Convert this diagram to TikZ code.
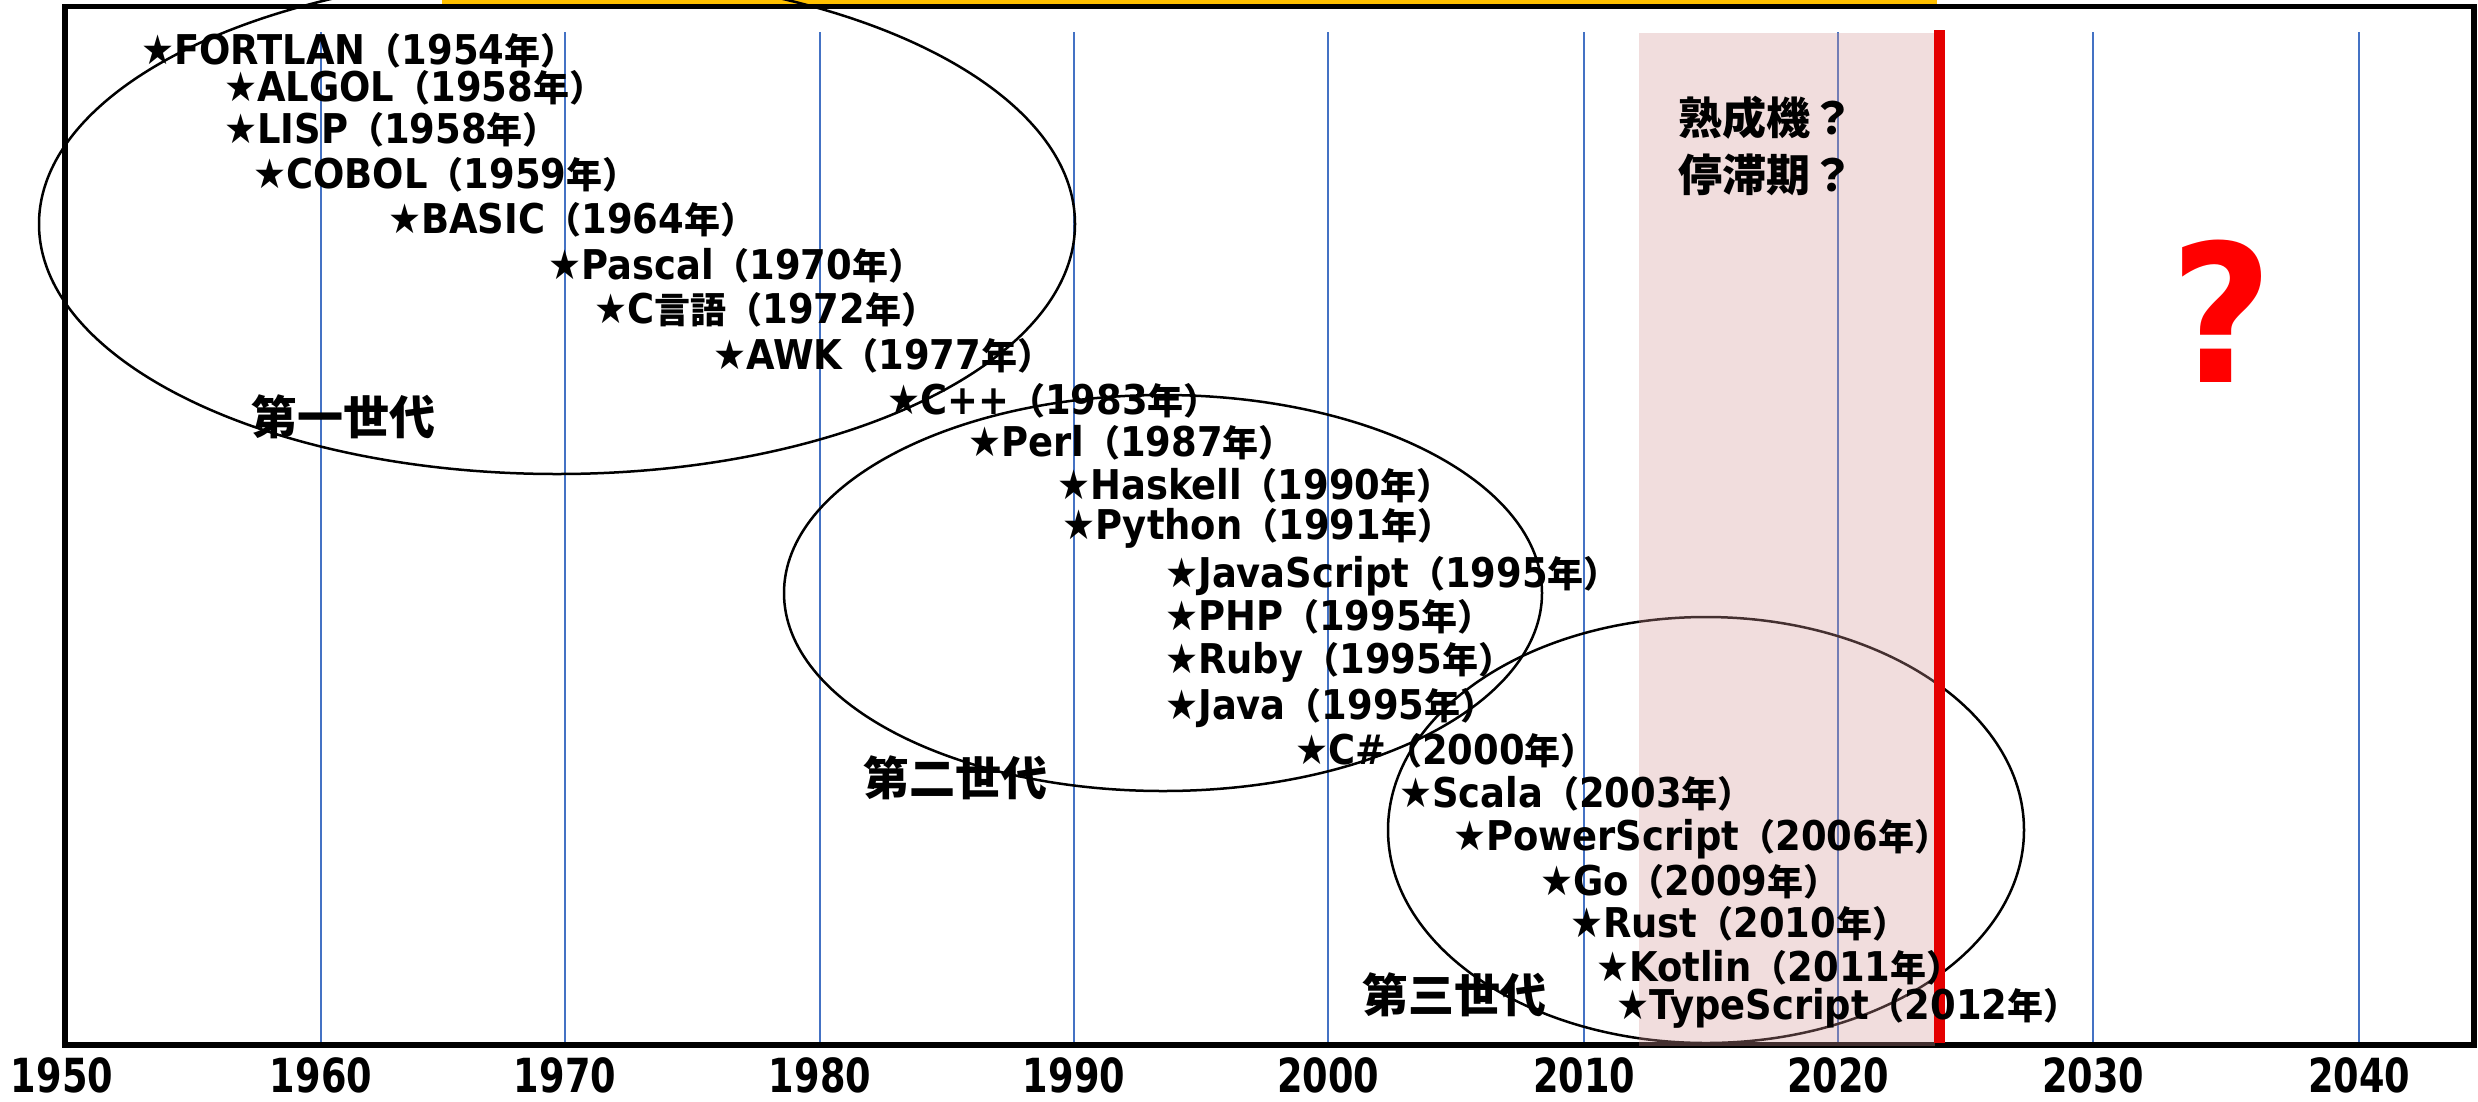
\documentclass[tikz,border=0pt]{standalone}
\usepackage{fontspec}
\newfontfamily\latf{DejaVu Sans}[FakeStretch=0.9]
\newfontfamily\axisfont{DejaVu Sans}[FakeStretch=0.78]
\newfontfamily\qfont{DejaVu Sans}[FakeStretch=0.92]
\newfontfamily\jpf{Noto Sans CJK JP}
\definecolor{gridblue}{RGB}{68,114,196}
\definecolor{orangebar}{RGB}{255,192,0}
\definecolor{pinkfill}{RGB}{214,150,150}
\definecolor{nowred}{RGB}{228,0,0}
\newcommand\jc[1]{{\jpf\fontsize{36}{36}\selectfont #1}}
\newcommand\entry[2]{★#1\jc{（}#2\jc{年）}}
\tikzset{
  lang/.style={anchor=west, inner sep=0pt, font=\latf\bfseries\fontsize{41}{41}\selectfont},
  gen/.style={anchor=west, inner sep=0pt, font=\jpf\bfseries\fontsize{46}{46}\selectfont},
  yearlbl/.style={inner sep=0pt, font=\axisfont\bfseries\fontsize{47}{47}\selectfont},
  gridline/.style={draw=gridblue, line width=1.5pt},
  era/.style={draw=black, line width=2.5pt},
}
\begin{document}
\begin{tikzpicture}[x=1pt,y=-1pt]
\useasboundingbox (0,0) rectangle (2478,1101);
\clip (0,0) rectangle (2478,1101);
\fill[white] (0,0) rectangle (2478,1101);
% strip above the frame
\fill[orangebar] (442,0) rectangle (1937,4.5);
% decade grid and axis labels
\foreach \yr/\x in {1960/321,1970/565,1980/820,1990/1074,2000/1328,2010/1584,2020/1838,2030/2093,2040/2359}{
  \draw[gridline] (\x,32) -- (\x,1045);
  \node[yearlbl] (y\yr) at (\x,1075) {\yr};
}
\node[yearlbl] (y1950) at (62,1075) {1950};
% frame
\draw[line width=5.5pt] (65,6.5) rectangle (2474,1045);
% generations
\draw[era] (557,224) ellipse [x radius=518, y radius=250];
\draw[era] (1163,593) ellipse [x radius=379, y radius=198];
\draw[era] (1706,830) ellipse [x radius=318, y radius=213];
% recent period
\fill[pinkfill, fill opacity=0.32] (1639,33) rectangle (1935,1046);
\draw[nowred, line width=11pt] (1939,30) -- (1939,1043);
% languages
\node[lang] (fortlan) at (141,51) {\entry{FORTLAN}{1954}};
\node[lang] (algol) at (224,88) {\entry{ALGOL}{1958}};
\node[lang] (lisp) at (224,130) {\entry{LISP}{1958}};
\node[lang] (cobol) at (253,175) {\entry{COBOL}{1959}};
\node[lang] (basic) at (388,220) {\entry{BASIC}{1964}};
\node[lang] (pascal) at (548,266) {\entry{Pascal}{1970}};
\node[lang] (clang) at (594,310) {\entry{C\jc{言語}}{1972}};
\node[lang] (awk) at (713,356) {\entry{AWK}{1977}};
\node[lang] (cpp) at (887,401) {\entry{C++}{1983}};
\node[lang] (perl) at (968,443) {\entry{Perl}{1987}};
\node[lang] (haskell) at (1057,486) {\entry{Haskell}{1990}};
\node[lang] (python) at (1062,528) {\entry{Python}{1991}};
\node[lang] (javascript) at (1165,576) {\entry{JavaScript}{1995}};
\node[lang] (php) at (1165,617) {\entry{PHP}{1995}};
\node[lang] (ruby) at (1165,662) {\entry{Ruby}{1995}};
\node[lang] (java) at (1165,708) {\entry{Java}{1995}};
\node[lang] (csharp) at (1295,751) {\entry{C\#}{2000}};
\node[lang] (scala) at (1399,794) {\entry{Scala}{2003}};
\node[lang] (powerscript) at (1453,839) {\entry{PowerScript}{2006}};
\node[lang] (golang) at (1540,882) {\entry{Go}{2009}};
\node[lang] (rust) at (1570,924) {\entry{Rust}{2010}};
\node[lang] (kotlin) at (1596,968) {\entry{Kotlin}{2011}};
\node[lang] (typescript) at (1616,1008) {\entry{TypeScript}{2012}};
% generation labels
\node[gen] (gen1) at (251,417) {第一世代};
\node[gen] (gen2) at (863,778) {第二世代};
\node[gen] (gen3) at (1362,995) {第三世代};
% notes
\node[anchor=west, align=left, inner sep=0pt, font=\jpf\bfseries\fontsize{44}{57}\selectfont] (mature) at (1678,146) {熟成機？\\停滞期？};
\node[text=red, inner sep=0pt, font=\qfont\bfseries\fontsize{192}{192}\selectfont] (future) at (2222,311) {?};
\end{tikzpicture}
\end{document}
